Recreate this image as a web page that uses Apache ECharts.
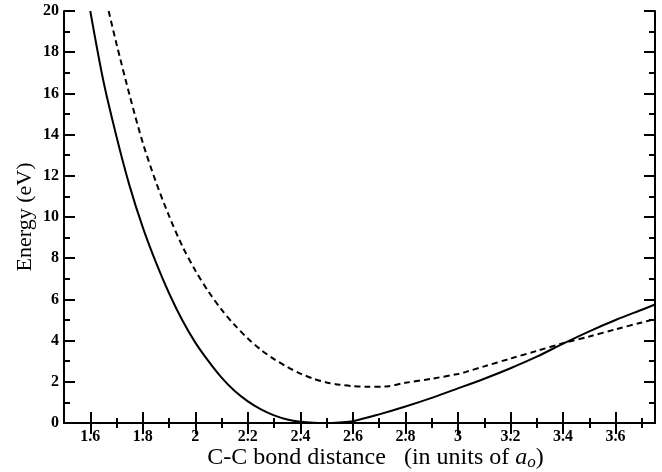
<!DOCTYPE html>
<html>
<head>
<meta charset="utf-8">
<script src="https://cdn.jsdelivr.net/npm/echarts@6/dist/echarts.min.js"></script>
<style>html,body{margin:0;padding:0;background:#fff;}#c{width:662px;height:472px;}</style>
</head>
<body>
<div id="c"></div>
<script>
// ---- data ----
var solidX = [1.60,1.65,1.70,1.75,1.80,1.85,1.90,1.95,2.00,2.05,2.10,2.15,2.20,2.25,2.30,2.35,2.40,2.45,2.50,2.55,2.60,2.70,2.80,2.90,3.00,3.10,3.20,3.30,3.40,3.50,3.60,3.70,3.75];
var solidY = [20.0,16.6,13.9,11.5,9.5,7.8,6.3,5.0,3.9,3.0,2.2,1.55,1.05,0.66,0.37,0.17,0.06,0.01,0.0,0.03,0.09,0.42,0.80,1.22,1.68,2.15,2.66,3.22,3.85,4.45,5.0,5.5,5.75];
var dashX = [1.67,1.70,1.75,1.80,1.85,1.90,1.95,2.00,2.05,2.10,2.15,2.20,2.25,2.30,2.35,2.40,2.45,2.50,2.55,2.60,2.65,2.72,2.80,2.90,3.00,3.03,3.10,3.20,3.30,3.40,3.50,3.60,3.70,3.75];
var dashY = [20.0,18.4,15.9,13.6,11.7,10.05,8.6,7.4,6.38,5.5,4.75,4.1,3.55,3.1,2.72,2.4,2.15,1.97,1.86,1.79,1.76,1.77,1.95,2.15,2.38,2.48,2.75,3.13,3.5,3.87,4.2,4.55,4.88,5.05];

var xMajorTicks = [1.6,1.8,2.0,2.2,2.4,2.6,2.8,3.0,3.2,3.4,3.6];
var xTickLabels = ['1.6','1.8','2','2.2','2.4','2.6','2.8','3','3.2','3.4','3.6'];
var xMinorTicks = [1.7,1.9,2.1,2.3,2.5,2.7,2.9,3.1,3.3,3.5,3.7];
var yMajorTicks = [0,2,4,6,8,10,12,14,16,18,20];
var yTickLabels = ['0','2','4','6','8','10','12','14','16','18','20'];
var yMinorTicks = [1,3,5,7,9,11,13,15,17,19];

var xMin = 1.5, xMax = 3.75, yMin = 0, yMax = 20;
var xTitle = 'C-C bond distance   (in units of ';
var yTitle = 'Energy (eV)';

function zip(a, b) { return a.map(function (v, i) { return [v, b[i]]; }); }
function lblFmt(ticks, labels) {
  return function (v) {
    for (var i = 0; i < ticks.length; i++) if (Math.abs(ticks[i] - v) < 1e-6) return labels[i];
    return '';
  };
}

var FONT = '"Liberation Serif", "DejaVu Serif", serif';
var lineBlack = { show: true, lineStyle: { color: '#000', width: 2 } };
var noLine = { show: false };

function xAx(pos, ticks, len, withLabels, line) {
  return {
    type: 'value', position: pos, min: xMin, max: xMax,
    axisLine: line ? lineBlack : noLine,
    splitLine: { show: false },
    axisTick: { show: true, inside: true, length: len, customValues: ticks, lineStyle: { color: '#000', width: 2 } },
    axisLabel: withLabels ? {
      show: true, customValues: xMajorTicks, formatter: lblFmt(xMajorTicks, xTickLabels),
      color: '#000', fontFamily: FONT, fontSize: 16, fontWeight: 'bold', margin: 6
    } : { show: false }
  };
}
function yAx(pos, ticks, len, withLabels, line) {
  return {
    type: 'value', position: pos, min: yMin, max: yMax,
    axisLine: line ? lineBlack : noLine,
    splitLine: { show: false },
    axisTick: { show: true, inside: true, length: len, customValues: ticks, lineStyle: { color: '#000', width: 2 } },
    axisLabel: withLabels ? {
      show: true, customValues: yMajorTicks, formatter: lblFmt(yMajorTicks, yTickLabels),
      color: '#000', fontFamily: FONT, fontSize: 16, fontWeight: 'bold', margin: 5
    } : { show: false }
  };
}

var xa0 = xAx('bottom', xMajorTicks, 11, true, true);
xa0.name = xTitle + '{it|a}{sub|o})';
xa0.nameLocation = 'middle';
xa0.nameMoveOverlap = false;
xa0.nameGap = 22;
xa0.nameTextStyle = {
  color: '#000', fontFamily: FONT, fontSize: 24, padding: [0, 0, 0, 32],
  rich: {
    it: { fontFamily: FONT, fontSize: 24, fontStyle: 'italic', color: '#000' },
    sub: { fontFamily: FONT, fontSize: 17, fontStyle: 'italic', color: '#000', padding: [9, 0, 0, 0] }
  }
};
var ya0 = yAx('left', yMajorTicks, 11, true, true);
ya0.name = yTitle;
ya0.nameLocation = 'middle';
ya0.nameMoveOverlap = false;
ya0.nameGap = 28;
ya0.nameTextStyle = { color: '#000', fontFamily: FONT, fontSize: 22 };

var option = {
  animation: false,
  backgroundColor: '#fff',
  grid: { left: 64, right: 7, top: 11, bottom: 49, containLabel: false, outerBoundsMode: 'none' },
  xAxis: [
    xa0,
    xAx('bottom', xMinorTicks, 5, false, false),
    xAx('top', xMajorTicks, 11, false, true),
    xAx('top', xMinorTicks, 5, false, false)
  ],
  yAxis: [
    ya0,
    yAx('left', yMinorTicks, 6, false, false),
    yAx('right', yMajorTicks, 11, false, true),
    yAx('right', yMinorTicks, 6, false, false)
  ],
  series: [
    {
      type: 'line', xAxisIndex: 0, yAxisIndex: 0, data: zip(solidX, solidY),
      showSymbol: false, smooth: 0.3, clip: true,
      lineStyle: { color: '#000', width: 2, type: 'solid' }
    },
    {
      type: 'line', xAxisIndex: 0, yAxisIndex: 0, data: zip(dashX, dashY),
      showSymbol: false, smooth: 0.3, clip: true,
      lineStyle: { color: '#000', width: 2, type: [6, 4] }
    }
  ]
};
var chart = echarts.init(document.getElementById('c'), null, { renderer: 'canvas' });
chart.setOption(option);
</script>
</body>
</html>
